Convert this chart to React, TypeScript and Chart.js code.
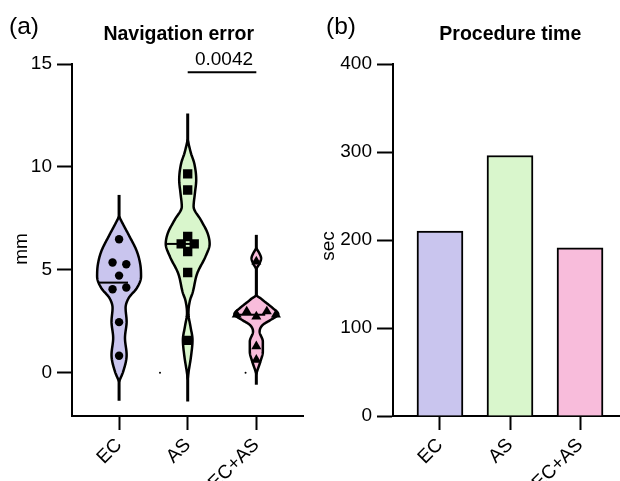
import React, { useEffect, useRef } from "react";
import { Chart, registerables } from "chart.js";

Chart.register(...registerables);

// ---------- data ----------
const categories = ["EC", "AS", "EC+AS"];
const navTicks = [0, 5, 10, 15];
const timeTicks = [0, 100, 200, 300, 400];

const ecValues = [6.49, 5.36, 5.27, 4.72, 4.06, 4.14, 2.46, 0.83];
const ecJitter = [0, -0.095, 0.105, 0, -0.095, 0.105, 0, 0];
const asValues = [9.66, 8.88, 6.62, 6.26, 6.26, 5.89, 4.87, 1.57];
const asJitter = [0, 0, 0, -0.095, 0.095, 0, 0, 0];
const ecasValues = [5.4, 2.82, 2.98, 2.73, 2.98, 2.82, 1.28, 0.63];
const ecasJitter = [0, -0.286, -0.14, 0, 0.153, 0.286, 0, 0];

const medians = [4.38, 6.26, 2.82];
const whiskerLow = [-1.36, -1.39, -0.58];
const whiskerHigh = [8.64, 12.6, 6.7];

// violin half-width profiles (value, half-width in category units)
const ecProfileY = [-0.42, 0.06, 0.87, 1.69, 2.49, 3.15, 3.63, 4.12, 4.68, 5.24, 5.89, 6.7, 7.2, 7.59];
const ecProfileW = [0, 0.06, 0.11, 0.086, 0.11, 0.095, 0.14, 0.26, 0.32, 0.31, 0.26, 0.14, 0.06, 0];
const asProfileY = [-0.3, -0.02, 0.79, 1.6, 2.25, 2.9, 3.54, 3.87, 4.84, 5.65, 6.26, 6.78, 7.43, 8.07, 8.72, 9.37, 10.18, 10.66, 11.31];
const asProfileW = [0, 0.01, 0.048, 0.07, 0.04, 0.01, 0.035, 0.07, 0.14, 0.26, 0.32, 0.29, 0.19, 0.086, 0.105, 0.124, 0.095, 0.048, 0];
const ecasProfileY = [-0.05, 0.06, 0.55, 1.03, 1.52, 2.0, 2.33, 2.57, 2.85, 3.14, 3.46, 3.6, 3.79, 5.0, 5.3, 5.56, 5.8, 6.05];
const ecasProfileW = [0, 0.01, 0.06, 0.095, 0.095, 0.048, 0.095, 0.21, 0.32, 0.24, 0.12, 0.07, 0, 0, 0.045, 0.07, 0.045, 0];

const strayX = [0.596, 1.843];
const strayY = [0, 0];

const pValue = "0.0042";
const pPair = [1, 2];
const pLevel = 14.6;

const procedureTime = [210, 296, 191];

// ---------- styles ----------
const FONT = "'Liberation Sans', Arial, Helvetica, sans-serif";
const fills = ["#c9c5ee", "#d9f6cc", "#f8bcdb"];

function monotone(xs: number[], ys: number[]) {
  const n = xs.length;
  const d: number[] = [];
  const m: number[] = new Array(n).fill(0);
  for (let i = 0; i < n - 1; i++) d[i] = (ys[i + 1] - ys[i]) / (xs[i + 1] - xs[i]);
  m[0] = d[0];
  m[n - 1] = d[n - 2];
  for (let i = 1; i < n - 1; i++) {
    m[i] = d[i - 1] * d[i] <= 0 ? 0 : (d[i - 1] + d[i]) / 2;
  }
  for (let i = 0; i < n - 1; i++) {
    if (d[i] === 0) {
      m[i] = 0;
      m[i + 1] = 0;
    } else {
      const a = m[i] / d[i];
      const b = m[i + 1] / d[i];
      const s = a * a + b * b;
      if (s > 9) {
        const t = 3 / Math.sqrt(s);
        m[i] = t * a * d[i];
        m[i + 1] = t * b * d[i];
      }
    }
  }
  return (x: number) => {
    let i = 0;
    while (i < n - 2 && x > xs[i + 1]) i++;
    const h = xs[i + 1] - xs[i];
    const t = (x - xs[i]) / h;
    const t2 = t * t;
    const t3 = t2 * t;
    const v =
      (2 * t3 - 3 * t2 + 1) * ys[i] +
      (t3 - 2 * t2 + t) * h * m[i] +
      (-2 * t3 + 3 * t2) * ys[i + 1] +
      (t3 - t2) * h * m[i + 1];
    return Math.max(0, v);
  };
}

const profiles = [
  [ecProfileY, ecProfileW],
  [asProfileY, asProfileW],
  [ecasProfileY, ecasProfileW],
];

const violinPlugin = {
  id: "violins",
  beforeDatasetsDraw(chart: any) {
    const { ctx, scales } = chart;
    const xs = scales.x;
    const ys = scales.y;
    ctx.save();
    profiles.forEach(([py, pw], i) => {
      const f = monotone(py, pw);
      // whisker
      ctx.beginPath();
      ctx.strokeStyle = "#000";
      ctx.lineWidth = 3;
      ctx.moveTo(xs.getPixelForValue(i), ys.getPixelForValue(whiskerLow[i]));
      ctx.lineTo(xs.getPixelForValue(i), ys.getPixelForValue(whiskerHigh[i]));
      ctx.stroke();
      // violin
      const y0 = py[0];
      const y1 = py[py.length - 1];
      const N = 200;
      ctx.beginPath();
      for (let k = 0; k <= N; k++) {
        const v = y0 + ((y1 - y0) * k) / N;
        const px = xs.getPixelForValue(i + f(v));
        const pyy = ys.getPixelForValue(v);
        if (k === 0) ctx.moveTo(px, pyy);
        else ctx.lineTo(px, pyy);
      }
      for (let k = N; k >= 0; k--) {
        const v = y0 + ((y1 - y0) * k) / N;
        ctx.lineTo(xs.getPixelForValue(i - f(v)), ys.getPixelForValue(v));
      }
      ctx.closePath();
      ctx.fillStyle = fills[i];
      ctx.fill();
      ctx.lineWidth = 2.5;
      ctx.lineJoin = "round";
      ctx.strokeStyle = "#000";
      ctx.stroke();
      // median
      const mv = medians[i];
      ctx.beginPath();
      ctx.lineWidth = 2;
      ctx.moveTo(xs.getPixelForValue(i - f(mv)), ys.getPixelForValue(mv));
      ctx.lineTo(xs.getPixelForValue(i + 0.13), ys.getPixelForValue(mv));
      ctx.stroke();
    });
    ctx.restore();
  },
  afterDraw(chart: any) {
    const { ctx, scales } = chart;
    const xs = scales.x;
    const ys = scales.y;
    ctx.save();
    ctx.fillStyle = "#000";
    ctx.font = `24.5px ${FONT}`;
    ctx.textAlign = "left";
    ctx.textBaseline = "alphabetic";
    ctx.fillText("(a)", 9, 34);
    ctx.font = `bold 19.5px ${FONT}`;
    ctx.textAlign = "center";
    ctx.fillText("Navigation error", 178.7, 39.5);
    // significance
    const yl = ys.getPixelForValue(pLevel);
    ctx.beginPath();
    ctx.strokeStyle = "#000";
    ctx.lineWidth = 2;
    ctx.moveTo(xs.getPixelForValue(pPair[0]), yl);
    ctx.lineTo(xs.getPixelForValue(pPair[1]), yl);
    ctx.stroke();
    ctx.font = `19px ${FONT}`;
    ctx.fillText(pValue, (xs.getPixelForValue(pPair[0]) + xs.getPixelForValue(pPair[1])) / 2 + 2, yl - 7);
    // y title
    ctx.translate(26.5, 249);
    ctx.rotate(-Math.PI / 2);
    ctx.fillText("mm", 0, 0);
    ctx.restore();
  },
};

const barTextPlugin = {
  id: "barText",
  afterDraw(chart: any) {
    const { ctx } = chart;
    ctx.save();
    ctx.fillStyle = "#000";
    ctx.font = `24.5px ${FONT}`;
    ctx.textAlign = "left";
    ctx.textBaseline = "alphabetic";
    ctx.fillText("(b)", 16, 34);
    ctx.font = `bold 19.5px ${FONT}`;
    ctx.textAlign = "center";
    ctx.fillText("Procedure time", 200.3, 39.5);
    ctx.font = `19px ${FONT}`;
    ctx.translate(23.5, 246);
    ctx.rotate(-Math.PI / 2);
    ctx.fillText("sec", 0, 0);
    ctx.restore();
  },
};

function axisCommon(tickLength: number) {
  return {
    grid: {
      display: true,
      drawOnChartArea: false,
      drawTicks: true,
      tickLength,
      tickColor: "#000",
      tickWidth: 2,
      color: "#000",
      offset: false,
    },
    border: { display: true, color: "#000", width: 2 },
  };
}

export default function App() {
  const leftRef = useRef<HTMLCanvasElement>(null);
  const rightRef = useRef<HTMLCanvasElement>(null);

  useEffect(() => {
    document.body.style.margin = "0";
    const pts = (vals: number[], jit: number[], idx: number) =>
      vals.map((v, k) => ({ x: idx + jit[k], y: v }));

    const left = new Chart(leftRef.current!, {
      type: "scatter",
      data: {
        datasets: [
          {
            data: pts(ecValues, ecJitter, 0),
            pointStyle: "circle",
            pointRadius: 4.2,
            backgroundColor: "#000",
            borderColor: "#000",
            borderWidth: 0,
          },
          {
            data: pts(asValues, asJitter, 1),
            pointStyle: "rect",
            pointRadius: 6.6,
            backgroundColor: "#000",
            borderColor: "#000",
            borderWidth: 0,
          },
          {
            data: pts(ecasValues, ecasJitter, 2),
            pointStyle: "triangle",
            pointRadius: 5.8,
            backgroundColor: "#000",
            borderColor: "#000",
            borderWidth: 0,
          },
          {
            data: strayX.map((x, k) => ({ x, y: strayY[k] })),
            pointStyle: "circle",
            pointRadius: 1,
            backgroundColor: "#000",
            borderWidth: 0,
          },
        ],
      },
      options: {
        animation: false,
        responsive: false,
        layout: { padding: { top: 64, left: 0, right: 2, bottom: 0 } },
        plugins: { legend: { display: false }, tooltip: { enabled: false }, title: { display: false } },
        scales: {
          x: {
            type: "linear",
            min: -0.686,
            max: 2.686,
            ...axisCommon(14),
            afterBuildTicks: (s: any) => {
              s.ticks = categories.map((_, i) => ({ value: i }));
            },
            afterFit: (s: any) => {
              s.height = 65;
            },
            ticks: {
              autoSkip: false,
              minRotation: 45,
              maxRotation: 45,
              padding: 4,
              color: "#000",
              font: { family: FONT, size: 19 },
              callback: (v: any) => categories[v] ?? "",
            },
          },
          y: {
            type: "linear",
            min: -2.1,
            max: 15,
            ...axisCommon(15),
            afterBuildTicks: (s: any) => {
              s.ticks = navTicks.map((v) => ({ value: v }));
            },
            afterFit: (s: any) => {
              s.width = 72;
            },
            ticks: {
              padding: 5,
              color: "#000",
              font: { family: FONT, size: 19 },
            },
          },
        },
      },
      plugins: [violinPlugin],
    } as any);

    const right = new Chart(rightRef.current!, {
      type: "bar",
      data: {
        datasets: [
          {
            data: procedureTime.map((v, i) => ({ x: i, y: v })),
            backgroundColor: fills,
            borderColor: "#000",
            borderWidth: 2,
            barThickness: 46,
          },
        ],
      },
      options: {
        animation: false,
        responsive: false,
        layout: { padding: { top: 64, left: 0, right: 0, bottom: 0 } },
        plugins: { legend: { display: false }, tooltip: { enabled: false }, title: { display: false } },
        scales: {
          x: {
            type: "linear",
            min: -0.671,
            max: 2.571,
            offset: false,
            ...axisCommon(14),
            afterBuildTicks: (s: any) => {
              s.ticks = categories.map((_, i) => ({ value: i }));
            },
            afterFit: (s: any) => {
              s.height = 65;
            },
            ticks: {
              autoSkip: false,
              minRotation: 45,
              maxRotation: 45,
              padding: 4,
              color: "#000",
              font: { family: FONT, size: 19 },
              callback: (v: any) => categories[v] ?? "",
            },
          },
          y: {
            type: "linear",
            min: 0,
            max: 400,
            ...axisCommon(16),
            afterBuildTicks: (s: any) => {
              s.ticks = timeTicks.map((v) => ({ value: v }));
            },
            afterFit: (s: any) => {
              s.width = 83;
            },
            ticks: {
              padding: 5,
              color: "#000",
              font: { family: FONT, size: 19 },
            },
          },
        },
      },
      plugins: [barTextPlugin],
    } as any);

    return () => {
      left.destroy();
      right.destroy();
    };
  }, []);

  return (
    <div style={{ position: "fixed", left: 0, top: 0, width: 620, height: 481, display: "flex", background: "#fff" }}>
      <canvas ref={leftRef} width={310} height={481} style={{ width: 310, height: 481, display: "block" }} />
      <canvas ref={rightRef} width={310} height={481} style={{ width: 310, height: 481, display: "block" }} />
    </div>
  );
}
